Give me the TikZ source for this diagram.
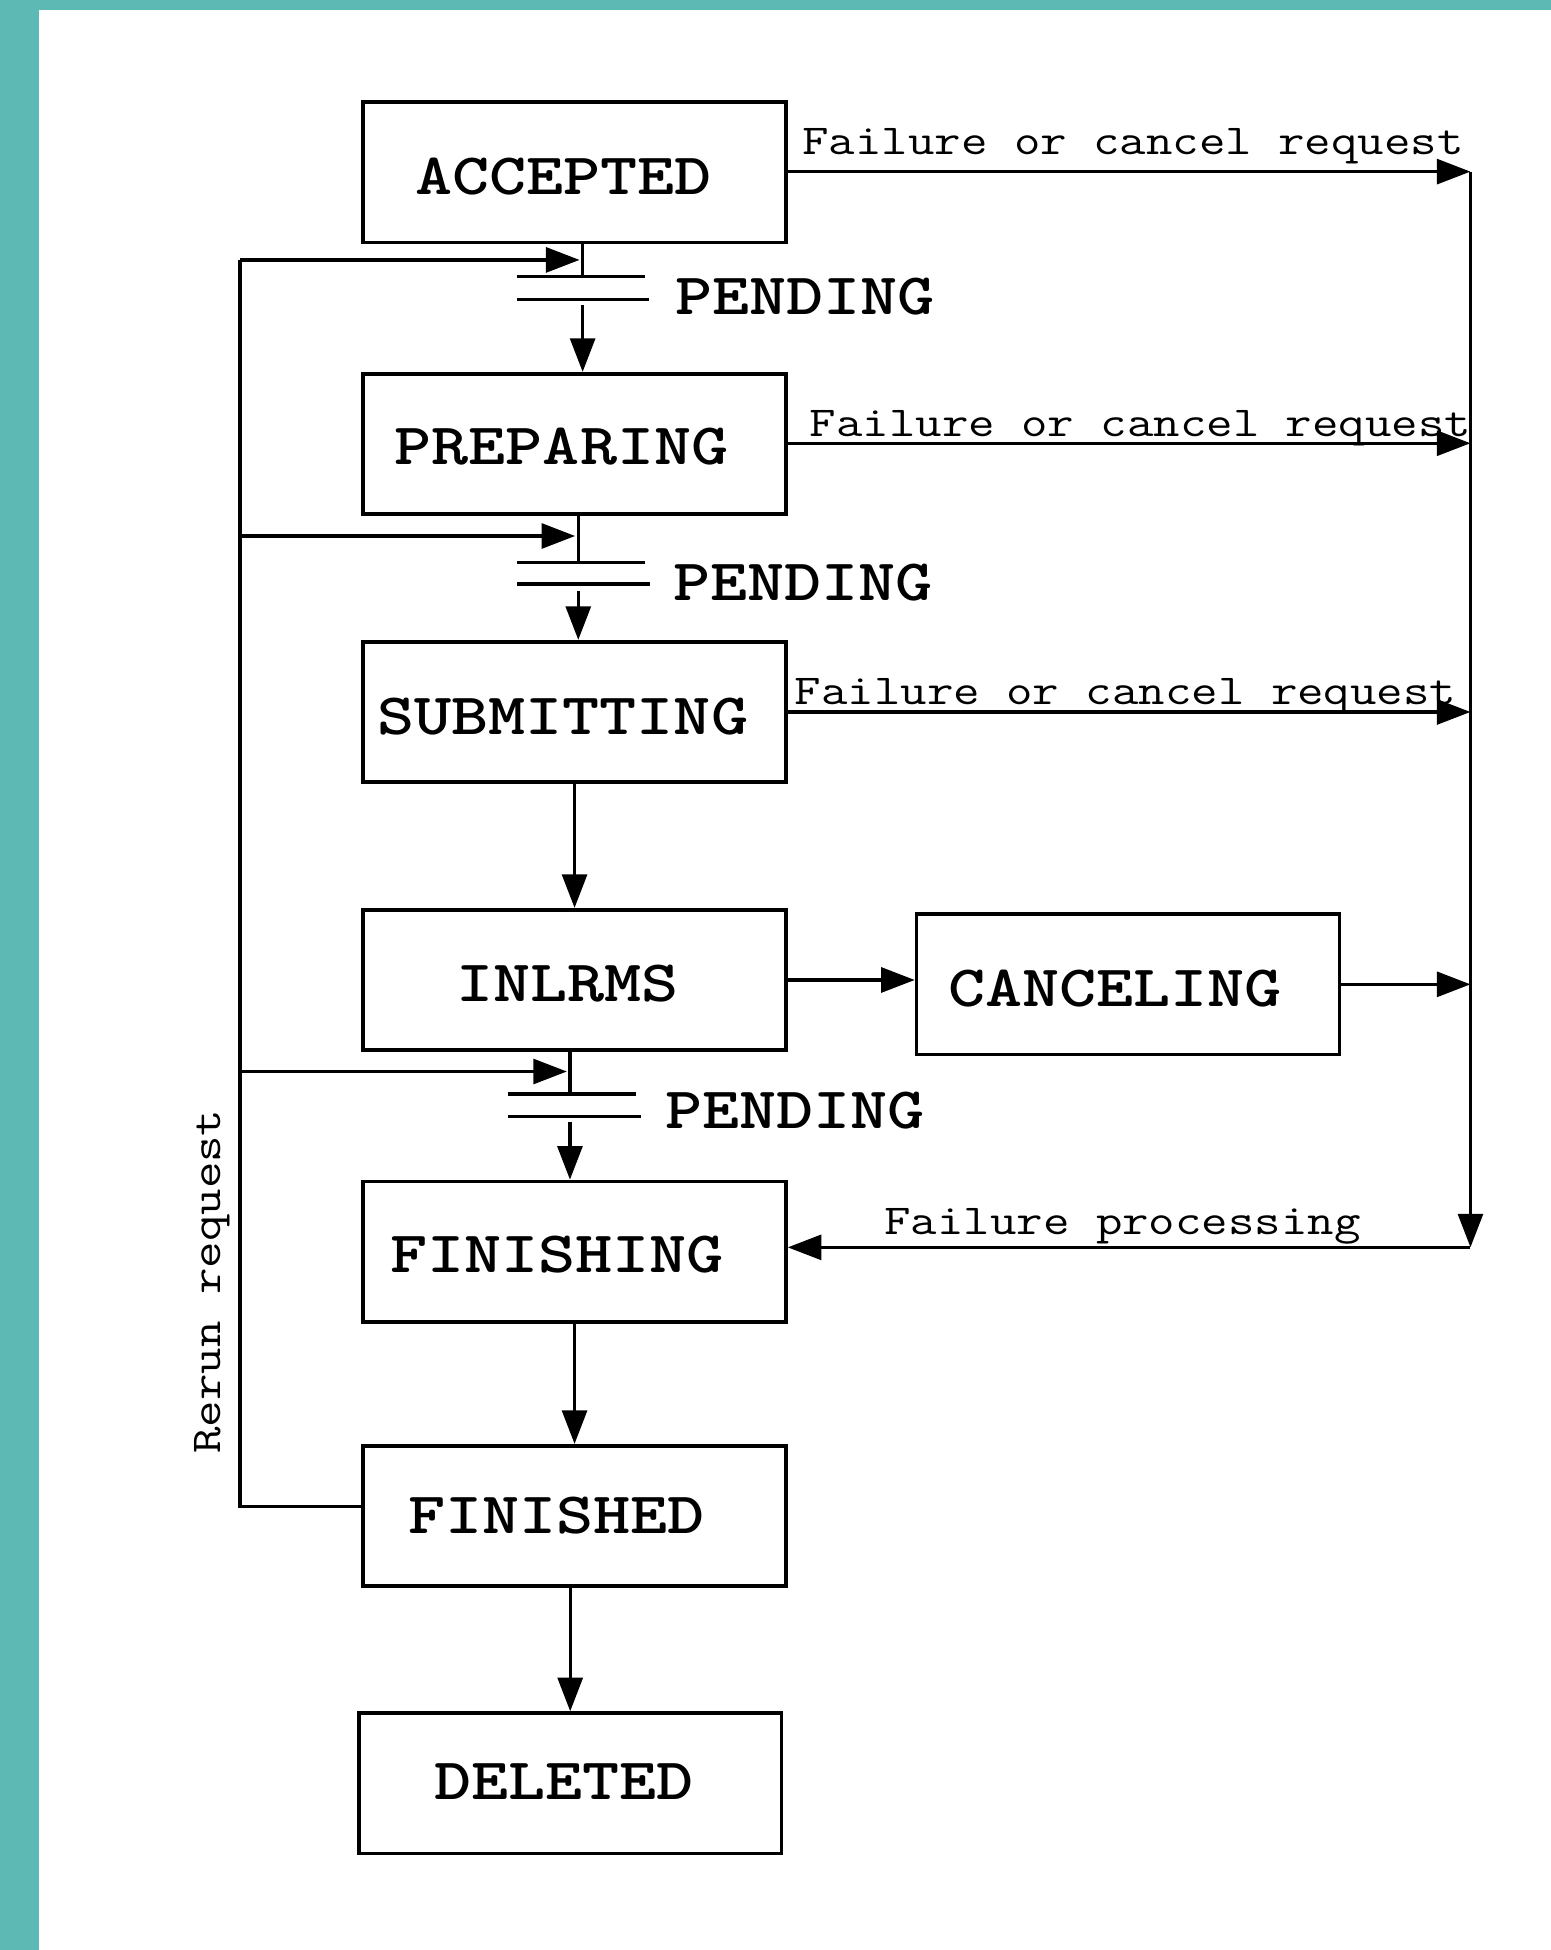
\documentclass[tikz,border=0pt]{standalone}
\usepackage{fontspec}
\usepackage{graphicx}
\usetikzlibrary{arrows.meta}
\newcommand\statefont{\ttfamily\bfseries\fontsize{56.8}{64}\selectfont}
\newcommand\smallfont{\ttfamily\fontsize{41.3}{46}\selectfont}
\newcommand\sq[1]{\scalebox{1}[0.83]{#1}}
\definecolor{tealbg}{RGB}{93,185,180}
\begin{document}
\begin{tikzpicture}[x=1pt,y=-1pt,
  box/.style={draw, line width=2.9pt, minimum width=340pt, minimum height=113pt, inner sep=0pt},
  statetxt/.style={font=\statefont, inner sep=0pt, anchor=base},
  pendtxt/.style={font=\statefont, inner sep=0pt, anchor=base west},
  smalltxt/.style={font=\smallfont, inner sep=0pt, anchor=base west},
  conn/.style={line width=2.7pt},
  arr/.style={conn, -{Triangle[length=27pt,width=20pt]}},
  bar/.style={line width=2.8pt},
]
\useasboundingbox (0,0) rectangle (1247,1568);
\fill[white] (0,0) rectangle (1247,1568);
\fill[tealbg] (0,0) rectangle (31.4,1568);
\fill[tealbg] (0,0) rectangle (1247,8.3);

% boxes
\node[box] (acc)  at (462,138.5) {};
\node[box] (prep) at (462,357) {};
\node[box] (subm) at (462,572.5) {};
\node[box] (inl)  at (462,788) {};
\node[box] (canc) at (907,791.5) {};
\node[box] (fing) at (462,1006.5) {};
\node[box] (fin)  at (462,1219) {};
\node[box] (del)  at (458.5,1434) {};

% state labels
\node[statetxt] (acct)  at (453,156) {\sq{ACCEPTED}};
\node[statetxt] (prept) at (451.5,373.5) {\sq{PREPARING}};
\node[statetxt] (submt) at (452.5,590.5) {\sq{SUBMITTING}};
\node[statetxt] (inlt)  at (456.5,805.5) {\sq{INLRMS}};
\node[statetxt] (canct) at (896.5,809.5) {\sq{CANCELING}};
\node[statetxt] (fingt) at (448,1023.5) {\sq{FINISHING}};
\node[statetxt] (fint)  at (447.5,1232.8) {\sq{FINISHED}};
\node[statetxt] (delt)  at (453.5,1446.7) {\sq{DELETED}};

% pending labels
\node[pendtxt] (p1) at (542.7,252.6) {\sq{PENDING}};
\node[pendtxt] (p2) at (541,482.6) {\sq{PENDING}};
\node[pendtxt] (p3) at (534.7,907.2) {\sq{PENDING}};

% small labels
\node[smalltxt] (l1) at (645,124.6) {\sq{Failure or cancel request}};
\node[smalltxt] (l2) at (651,350.6) {\sq{Failure or cancel request}};
\node[smalltxt] (l3) at (639,566.6) {\sq{Failure or cancel request}};
\node[smalltxt] (l4) at (711,992.6) {\sq{Failure processing}};
\node[smalltxt, anchor=base, rotate=90] (rr) at (177,1030.5) {\sq{Rerun request}};

% bus coordinates
\coordinate (b1) at (1182.4,138);
\coordinate (b2) at (1182.4,356.4);
\coordinate (b3) at (1182.4,572.5);
\coordinate (b4) at (1182.4,791.5);
\coordinate (bend) at (1182.4,1003);

\draw[arr] (acc.east |- b1) -- (b1);
\draw[arr] (prep.east |- b2) -- (b2);
\draw[arr] (subm.east |- b3) -- (b3);
\draw[arr] (canc.east) -- (b4);
\draw[arr] (b1) -- (bend);
\draw[arr] (bend) -- (fing.east |- bend);
\draw[arr] (inl.east) -- (inl.east -| canc.west);

% main vertical flow
\draw[arr] (subm.south) -- (inl.north);
\draw[arr] (fing.south) -- (fin.north);
\draw[arr] (del.north |- fin.south) -- (del.north);

% rerun path
\coordinate (rbot) at (193,1211.4);
\coordinate (rtop) at (193,209);
\draw[conn] (fin.west |- rbot) -- (rbot) -- (rtop);

% junction 1
\coordinate (j1) at (468.5,222.4);
\coordinate (j1a) at (415.5,222.4);
\coordinate (j1b) at (518.6,222.4);
\coordinate (j1c) at (415.5,240.7);
\coordinate (j1d) at (522,240.7);
\coordinate (j1s) at (468.5,245.5);
\coordinate (j1f) at (466,209);
\draw[conn] (j1 |- acc.south) -- (j1);
\draw[bar] (j1a) -- (j1b);
\draw[bar] (j1c) -- (j1d);
\draw[arr] (j1s) -- (j1s |- prep.north);
\draw[arr] (rtop) -- (j1f);

% junction 2
\coordinate (j2) at (465,452.4);
\coordinate (j2a) at (415.7,452.4);
\coordinate (j2b) at (518.6,452.4);
\coordinate (j2c) at (415.7,469.5);
\coordinate (j2d) at (522.6,469.5);
\coordinate (j2s) at (465,475);
\coordinate (j2f) at (462.5,431);
\coordinate (j2r) at (193,431);
\draw[conn] (j2 |- prep.south) -- (j2);
\draw[bar] (j2a) -- (j2b);
\draw[bar] (j2c) -- (j2d);
\draw[arr] (j2s) -- (j2s |- subm.north);
\draw[arr] (j2r) -- (j2f);

% junction 3
\coordinate (j3) at (458.3,879.6);
\coordinate (j3a) at (408.7,879.6);
\coordinate (j3b) at (511.3,879.6);
\coordinate (j3c) at (408.7,897.8);
\coordinate (j3d) at (515.4,897.8);
\coordinate (j3s) at (458.3,902);
\coordinate (j3f) at (455.8,861.6);
\coordinate (j3r) at (193,861.6);
\draw[conn] (j3 |- inl.south) -- (j3);
\draw[bar] (j3a) -- (j3b);
\draw[bar] (j3c) -- (j3d);
\draw[arr] (j3s) -- (j3s |- fing.north);
\draw[arr] (j3r) -- (j3f);
\end{tikzpicture}
\end{document}
